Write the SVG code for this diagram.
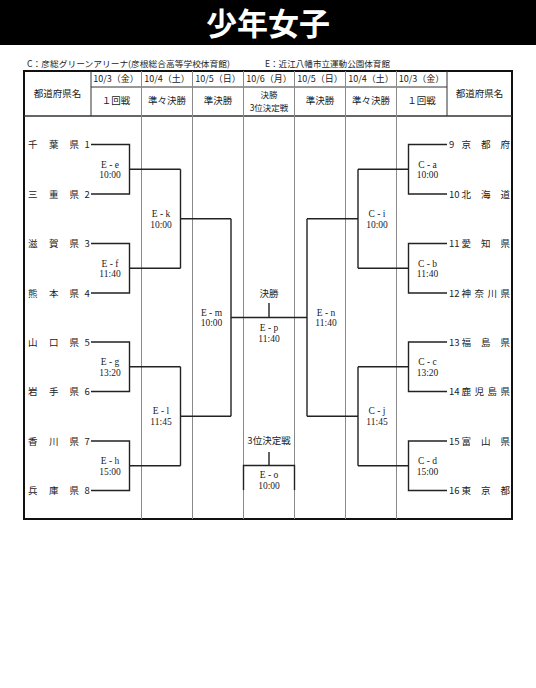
<svg xmlns="http://www.w3.org/2000/svg" width="536" height="688" viewBox="0 0 536 688">
<style>
text{font-family:"Noto Sans CJK JP","Noto Sans",sans-serif;fill:#222;}
.t{font-size:9.5px;}
.c{text-anchor:middle;}
.m{font-family:"Liberation Serif","Noto Sans CJK JP",serif;font-size:9.5px;text-anchor:middle;}
.h{font-size:9px;text-anchor:middle;}
.br{fill:none;stroke:#222;stroke-width:1.4;}
.col{stroke:#8a8a8a;stroke-width:1;}
.hl{stroke:#333;stroke-width:1;}
</style>
<rect x="0" y="0" width="536" height="45" fill="#000"/>
<text x="268" y="35" style="font-size:31px;font-weight:bold;fill:#fff;" text-anchor="middle">少年女子</text>
<text x="27" y="67" style="font-size:8.5px;" textLength="203" lengthAdjust="spacingAndGlyphs">C：彦総グリーンアリーナ(彦根総合高等学校体育館)</text>
<text x="265" y="67" style="font-size:8.5px;" textLength="125" lengthAdjust="spacingAndGlyphs">E：近江八幡市立運動公園体育館</text>

<g id="table">
<rect x="24" y="71" width="488" height="448" fill="#fff" stroke="#111" stroke-width="2"/>
<line class="hl" x1="24" y1="116" x2="512" y2="116" style="stroke-width:1.3"/>
<line class="hl" x1="91" y1="87" x2="447" y2="87"/>
<line class="hl" x1="91" y1="71" x2="91" y2="116"/>
<line class="hl" x1="447" y1="71" x2="447" y2="116"/>
<line class="col" x1="141.5" y1="71" x2="141.5" y2="519"/>
<line class="col" x1="192.5" y1="71" x2="192.5" y2="519"/>
<line class="col" x1="243.5" y1="71" x2="243.5" y2="519"/>
<line class="col" x1="294.5" y1="71" x2="294.5" y2="519"/>
<line class="col" x1="345.5" y1="71" x2="345.5" y2="519"/>
<line class="col" x1="396.5" y1="71" x2="396.5" y2="519"/>
<text class="t c" x="57.5" y="97">都道府県名</text>
<text class="t c" x="479.5" y="97">都道府県名</text>
<text class="h" x="116" y="82">10/3（金）</text>
<text class="h" x="167" y="82">10/4（土）</text>
<text class="h" x="218" y="82">10/5（日）</text>
<text class="h" x="269" y="82">10/6（月）</text>
<text class="h" x="320" y="82">10/5（日）</text>
<text class="h" x="371" y="82">10/4（土）</text>
<text class="h" x="421.5" y="82">10/3（金）</text>
<text class="t c" x="116" y="104">１回戦</text>
<text class="t c" x="167" y="104">準々決勝</text>
<text class="t c" x="218" y="104">準決勝</text>
<text class="c" style="font-size:8.5px" x="269" y="98">決勝</text>
<text class="c" style="font-size:8.5px" x="269" y="110.5">3位決定戦</text>
<text class="t c" x="320" y="104">準決勝</text>
<text class="t c" x="371" y="104">準々決勝</text>
<text class="t c" x="421.5" y="104">１回戦</text>
</g>

<g id="teams-left">
<g id="t1"><text class="t" x="28 49 69.5" y="148">千葉県</text><text class="t" x="84.5" y="148">1</text></g>
<g id="t2"><text class="t" x="28 49 69.5" y="197.5">三重県</text><text class="t" x="84.5" y="197.5">2</text></g>
<g id="t3"><text class="t" x="28 49 69.5" y="247">滋賀県</text><text class="t" x="84.5" y="247">3</text></g>
<g id="t4"><text class="t" x="28 49 69.5" y="296.5">熊本県</text><text class="t" x="84.5" y="296.5">4</text></g>
<g id="t5"><text class="t" x="28 49 69.5" y="345.5">山口県</text><text class="t" x="84.5" y="345.5">5</text></g>
<g id="t6"><text class="t" x="28 49 69.5" y="395">岩手県</text><text class="t" x="84.5" y="395">6</text></g>
<g id="t7"><text class="t" x="28 49 69.5" y="444.5">香川県</text><text class="t" x="84.5" y="444.5">7</text></g>
<g id="t8"><text class="t" x="28 49 69.5" y="494">兵庫県</text><text class="t" x="84.5" y="494">8</text></g>
</g>

<g id="teams-right">
<g id="t9"><text class="t" x="449" y="148">9</text><text class="t" x="461.5 481 500.5" y="148">京都府</text></g>
<g id="t10"><text class="t" x="449" y="197.5">10</text><text class="t" x="461.5 481 500.5" y="197.5">北海道</text></g>
<g id="t11"><text class="t" x="449" y="247">11</text><text class="t" x="461.5 481 500.5" y="247">愛知県</text></g>
<g id="t12"><text class="t" x="449" y="296.5">12</text><text class="t" x="461.5 474.5 487.5 500.5" y="296.5">神奈川県</text></g>
<g id="t13"><text class="t" x="449" y="345.5">13</text><text class="t" x="461.5 481 500.5" y="345.5">福島県</text></g>
<g id="t14"><text class="t" x="449" y="395">14</text><text class="t" x="461.5 474.5 487.5 500.5" y="395">鹿児島県</text></g>
<g id="t15"><text class="t" x="449" y="444.5">15</text><text class="t" x="461.5 481 500.5" y="444.5">富山県</text></g>
<g id="t16"><text class="t" x="449" y="494">16</text><text class="t" x="461.5 481 500.5" y="494">東京都</text></g>
</g>

<g id="connectors">
<path class="br" d="M91 144.5H129.5V194H91M129.5 169.2H180.5"/>
<path class="br" d="M91 243.5H129.5V293H91M129.5 268.2H180.5"/>
<path class="br" d="M91 342H129.5V391.5H91M129.5 366.7H180.5"/>
<path class="br" d="M91 441H129.5V490.5H91M129.5 465.7H180.5"/>
<path class="br" d="M180.5 169.2V268.2M180.5 218.7H231"/>
<path class="br" d="M180.5 366.7V465.7M180.5 416.2H231"/>
<path class="br" d="M231 218.7V416.2M231 317.5H307"/>
<path class="br" d="M447 144.5H408.5V194H447M408.5 169.2H358"/>
<path class="br" d="M447 243.5H408.5V293H447M408.5 268.2H358"/>
<path class="br" d="M447 342H408.5V391.5H447M408.5 366.7H358"/>
<path class="br" d="M447 441H408.5V490.5H447M408.5 465.7H358"/>
<path class="br" d="M358 169.2V268.2M358 218.7H307"/>
<path class="br" d="M358 366.7V465.7M358 416.2H307"/>
<path class="br" d="M307 218.7V416.2"/>
<path class="br" d="M269 303V317.5"/>
<path class="br" d="M269 452V465.5M243.5 490V465.5H294.5V490"/>
</g>

<g id="m-e"><text class="m" x="110" y="167.5">E - e</text><text class="m" x="110" y="178">10:00</text></g>
<g id="m-f"><text class="m" x="110" y="266.5">E - f</text><text class="m" x="110" y="277">11:40</text></g>
<g id="m-g"><text class="m" x="110" y="365">E - g</text><text class="m" x="110" y="375.5">13:20</text></g>
<g id="m-h"><text class="m" x="110" y="464">E - h</text><text class="m" x="110" y="474.5">15:00</text></g>
<g id="m-k"><text class="m" x="161" y="217">E - k</text><text class="m" x="161" y="227.5">10:00</text></g>
<g id="m-l"><text class="m" x="161" y="414">E - l</text><text class="m" x="161" y="424.5">11:45</text></g>
<g id="m-m"><text class="m" x="211.5" y="315.5">E - m</text><text class="m" x="211.5" y="326">10:00</text></g>
<g id="m-n"><text class="m" x="326" y="315.5">E - n</text><text class="m" x="326" y="326">11:40</text></g>
<g id="m-p"><text class="t c" x="269" y="296.5">決勝</text><text class="m" x="269" y="331">E - p</text><text class="m" x="269" y="341.5">11:40</text></g>
<g id="m-o"><text class="t c" x="269" y="444">3位決定戦</text><text class="m" x="269" y="478">E - o</text><text class="m" x="269" y="488.5">10:00</text></g>
<g id="m-a"><text class="m" x="427.5" y="167.5">C - a</text><text class="m" x="427.5" y="178">10:00</text></g>
<g id="m-b"><text class="m" x="427.5" y="266.5">C - b</text><text class="m" x="427.5" y="277">11:40</text></g>
<g id="m-c"><text class="m" x="427.5" y="365">C - c</text><text class="m" x="427.5" y="375.5">13:20</text></g>
<g id="m-d"><text class="m" x="427.5" y="464">C - d</text><text class="m" x="427.5" y="474.5">15:00</text></g>
<g id="m-i"><text class="m" x="377" y="217">C - i</text><text class="m" x="377" y="227.5">10:00</text></g>
<g id="m-j"><text class="m" x="377" y="414">C - j</text><text class="m" x="377" y="424.5">11:45</text></g>
</svg>
